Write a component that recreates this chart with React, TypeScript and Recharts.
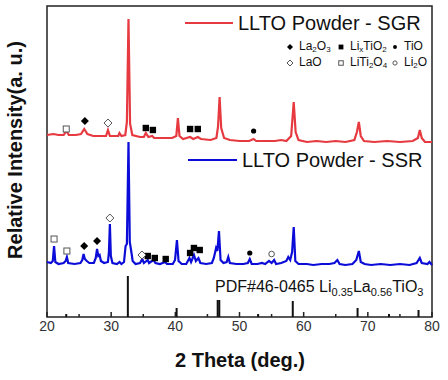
import React from "react"
import { ComposedChart, Line, Scatter, XAxis, YAxis, ReferenceLine, ReferenceArea } from "recharts"

const FONT = 'Arial, "Liberation Sans", Helvetica, sans-serif'
const RED = "#e63a40"
const BLUE = "#0c0cd8"

const thetaTicks = [20, 25, 30, 35, 40, 45, 50, 55, 60, 65, 70, 75, 80]

// SGR pattern (2θ, relative intensity above its own baseline)
const sgrPattern: [number, number][] = [
  [20, 7], [21, 8], [21.8, 7], [22.6, 7], [23.0, 11], [23.4, 7], [24.5, 7], [25.3, 8], [25.8, 13], [26.3, 8],
  [27.2, 6], [28.5, 6], [29.2, 6], [29.5, 12], [29.8, 6], [30.6, 6], [31.1, 6], [31.3, 9], [31.6, 6], [32.2, 7],
  [32.45, 20], [32.7, 123], [32.95, 18], [33.3, 7], [34.5, 5], [35.1, 5], [35.4, 9], [35.8, 5], [36.4, 6], [36.7, 4],
  [38, 4], [39.5, 4], [40.15, 6], [40.4, 24], [40.65, 6], [41.2, 3], [42.3, 5], [42.8, 3], [43.5, 5], [44, 3],
  [45.5, 2], [46.4, 4], [46.65, 15], [46.9, 45], [47.15, 14], [47.6, 4], [48.5, 2], [50, 1], [51.5, 1], [52.2, 3],
  [52.6, 1], [54, 1], [55.5, 1], [56.5, 2], [57.3, 1], [58.05, 6], [58.45, 40], [58.75, 10], [59.2, 2], [60.5, 0],
  [62, 1], [63.5, 0], [65, 1], [66.5, 0], [67.9, 2], [68.3, 10], [68.6, 20], [68.9, 6], [69.4, 1], [71, 0],
  [73, 1], [75, 0], [77, 1], [77.8, 4], [78.1, 12], [78.4, 4], [78.9, 0], [80, 0],
]

// SSR pattern (2θ, relative intensity above its own baseline)
const ssrPattern: [number, number][] = [
  [20, 4], [20.6, 3], [20.9, 5], [21.1, 20], [21.3, 4], [21.8, 2], [22.6, 3], [22.9, 5], [23.1, 9], [23.3, 3],
  [24.3, 2], [25.2, 3], [25.5, 6], [25.7, 12], [25.9, 7], [26.2, 5], [26.6, 3], [27.3, 3], [27.6, 8], [27.8, 17],
  [28.0, 10], [28.2, 11], [28.4, 5], [28.9, 3], [29.5, 4], [29.65, 14], [29.8, 42], [29.95, 10], [30.2, 3], [30.9, 2],
  [31.3, 4], [31.6, 2], [32.0, 4], [32.25, 20], [32.45, 22], [32.7, 124], [32.9, 24], [33.1, 16], [33.35, 5], [33.8, 2],
  [34.5, 3], [34.85, 7], [35.1, 3], [35.7, 6], [35.9, 3], [36.6, 6], [36.9, 3], [37.6, 2], [38.4, 4], [38.7, 2],
  [39.6, 2], [39.95, 6], [40.25, 26], [40.5, 5], [41, 2], [41.7, 2], [42.2, 8], [42.45, 4], [42.9, 11], [43.2, 5],
  [43.6, 8], [43.9, 3], [44.8, 2], [45.7, 3], [46.0, 8], [46.35, 18], [46.55, 15], [46.8, 35], [47.05, 6], [47.5, 3],
  [48.0, 4], [48.25, 9], [48.5, 3], [49.5, 2], [50.6, 2], [51.3, 3], [51.6, 7], [51.9, 2], [52.8, 2], [53.5, 3],
  [54.0, 2], [54.6, 5], [55.0, 3], [55.4, 6], [55.7, 2], [56.5, 3], [57.3, 5], [57.6, 9], [57.9, 6], [58.2, 14],
  [58.45, 39], [58.7, 5], [59.2, 2], [60.5, 2], [61.5, 1], [62.8, 2], [64, 2], [64.8, 3], [65.25, 6], [65.6, 2],
  [66.5, 1], [67.6, 2], [68.2, 6], [68.6, 15], [68.9, 4], [69.5, 2], [70.5, 1], [72, 2], [73.5, 1], [75, 2],
  [76.5, 1], [77.6, 3], [78.1, 8], [78.4, 3], [79.3, 2], [79.6, 4], [80, 1],
]

const sgrOffset = 175
const ssrOffset = 51

// PDF#46-0465 reference lines (2θ, relative intensity)
const pdfSticks: [number, number][] = [
  [23.0, 3], [32.6, 41], [40.2, 9], [46.6, 17], [46.85, 17], [52.9, 3], [58.3, 16], [68.4, 9], [73.3, 3], [77.9, 7],
]

type Phase = "La2O3" | "LixTiO2" | "TiO" | "LaO" | "LiTi2O4" | "Li2O"

const sgrMarks: [Phase, number, number][] = [
  ["LiTi2O4", 23.0, 13], ["La2O3", 25.9, 21], ["LaO", 29.5, 19],
  ["LixTiO2", 35.4, 14], ["LixTiO2", 36.5, 12], ["LixTiO2", 42.3, 13], ["LixTiO2", 43.5, 13],
  ["TiO", 52.2, 11],
]

const ssrMarks: [Phase, number, number][] = [
  ["LiTi2O4", 21.1, 27], ["LiTi2O4", 23.1, 15], ["La2O3", 25.8, 20], ["La2O3", 27.8, 25],
  ["LaO", 29.8, 48], ["LaO", 34.8, 11],
  ["LixTiO2", 35.7, 10], ["LixTiO2", 36.8, 8], ["LixTiO2", 38.5, 7],
  ["LixTiO2", 42.3, 13], ["LixTiO2", 42.9, 18], ["LixTiO2", 43.8, 16],
  ["TiO", 51.6, 13], ["Li2O", 55.0, 12],
]

const phases: Phase[] = ["La2O3", "LixTiO2", "TiO", "LaO", "LiTi2O4", "Li2O"]

function glyph(kind: Phase, cx: number, cy: number, s: number) {
  const open = { fill: "#fff", stroke: "#555", strokeWidth: 1 }
  const solid = { fill: "#000", stroke: "none" }
  switch (kind) {
    case "La2O3":
      return <polygon points={`${cx},${cy - s} ${cx + s},${cy} ${cx},${cy + s} ${cx - s},${cy}`} {...solid} />
    case "LaO":
      return <polygon points={`${cx},${cy - s} ${cx + s},${cy} ${cx},${cy + s} ${cx - s},${cy}`} {...open} />
    case "LixTiO2":
      return <rect x={cx - s * 0.8} y={cy - s * 0.8} width={s * 1.6} height={s * 1.6} {...solid} />
    case "LiTi2O4":
      return <rect x={cx - s * 0.75} y={cy - s * 0.75} width={s * 1.5} height={s * 1.5} {...open} />
    case "TiO":
      return <circle cx={cx} cy={cy} r={s * 0.65} {...solid} />
    default:
      return <circle cx={cx} cy={cy} r={s * 0.7} {...open} />
  }
}

function ThetaTick(props: any) {
  const { x, y, payload } = props
  const major = payload.value % 10 === 0
  return (
    <g>
      <line x1={x} x2={x} y1={y} y2={y - (major ? 5 : 3)} stroke="#222" strokeWidth={1.5} />
      {major && (
        <text x={x} y={y + 14} textAnchor="middle" fontSize={14} fill="#333" fontFamily={FONT}>
          {payload.value}
        </text>
      )}
    </g>
  )
}

function LegendItem({ kind, left, top, children }: { kind: Phase; left: number; top: number; children: React.ReactNode }) {
  return (
    <>
      <svg style={{ position: "absolute", left: left - 5, top: top - 5 }} width={10} height={10}>
        {glyph(kind, 5, 5, 3)}
      </svg>
      <div style={{ position: "absolute", left: left + 9, top: top - 7, fontSize: 12, lineHeight: "12px", whiteSpace: "nowrap", color: "#111" }}>
        {children}
      </div>
    </>
  )
}

const sub = { fontSize: 8, lineHeight: "8px", verticalAlign: "-2px" as const }

export default function App() {
  const sgrData = sgrPattern.map(([theta, v]) => ({ theta, value: v + sgrOffset }))
  const ssrData = ssrPattern.map(([theta, v]) => ({ theta, value: v + ssrOffset }))
  const markData = (marks: [Phase, number, number][], offset: number, kind: Phase) =>
    marks.filter((m) => m[0] === kind).map(([, theta, v]) => ({ theta, value: v + offset }))

  return (
    <div style={{ position: "absolute", left: 0, top: 0, width: 448, height: 380, background: "#fff", fontFamily: FONT }}>
      <ComposedChart width={448} height={380} margin={{ top: 6, right: 16, bottom: 0, left: 47 }}>
        <XAxis
          type="number"
          dataKey="theta"
          domain={[20, 80]}
          ticks={thetaTicks}
          interval={0}
          height={63}
          axisLine={false}
          tickLine={false}
          tickSize={0}
          tickMargin={0}
          tick={<ThetaTick />}
        />
        <YAxis type="number" dataKey="value" domain={[0, 311]} hide allowDataOverflow />
        <ReferenceArea x1={20} x2={80} y1={0} y2={311} fill="none" stroke="#222" strokeWidth={1.5} ifOverflow="visible" />
        {pdfSticks.map(([theta, h]) => (
          <ReferenceLine key={theta} segment={[{ x: theta, y: 0 }, { x: theta, y: h }]} stroke="#111" strokeWidth={2} />
        ))}
        <Line data={sgrData} dataKey="value" type="linear" stroke={RED} strokeWidth={2.2} dot={false} isAnimationActive={false} />
        <Line data={ssrData} dataKey="value" type="linear" stroke={BLUE} strokeWidth={2.2} dot={false} isAnimationActive={false} />
        {phases.map((kind) => (
          <Scatter
            key={"sgr" + kind}
            data={markData(sgrMarks, sgrOffset, kind)}
            dataKey="value"
            isAnimationActive={false}
            shape={(p: any) => glyph(kind, p.cx, p.cy, 4)}
          />
        ))}
        {phases.map((kind) => (
          <Scatter
            key={"ssr" + kind}
            data={markData(ssrMarks, ssrOffset, kind)}
            dataKey="value"
            isAnimationActive={false}
            shape={(p: any) => glyph(kind, p.cx, p.cy, 4)}
          />
        ))}
      </ComposedChart>

      {/* series legend */}
      <div style={{ position: "absolute", left: 185, top: 22, width: 48, height: 2, background: RED }} />
      <div style={{ position: "absolute", left: 238, top: 12, fontSize: 20, lineHeight: "22px", whiteSpace: "nowrap", color: "#111" }}>
        LLTO Powder - SGR
      </div>
      <div style={{ position: "absolute", left: 188, top: 159, width: 49, height: 2, background: BLUE }} />
      <div style={{ position: "absolute", left: 242, top: 149, fontSize: 20, lineHeight: "22px", whiteSpace: "nowrap", color: "#111" }}>
        LLTO Powder - SSR
      </div>

      {/* phase legend */}
      <LegendItem kind="La2O3" left={290} top={47}>La<span style={sub}>2</span>O<span style={sub}>3</span></LegendItem>
      <LegendItem kind="LixTiO2" left={341} top={47}>Li<span style={sub}>x</span>TiO<span style={sub}>2</span></LegendItem>
      <LegendItem kind="TiO" left={395} top={47}>TiO</LegendItem>
      <LegendItem kind="LaO" left={290} top={63}>LaO</LegendItem>
      <LegendItem kind="LiTi2O4" left={341} top={63}>LiTi<span style={sub}>2</span>O<span style={sub}>4</span></LegendItem>
      <LegendItem kind="Li2O" left={395} top={63}>Li<span style={sub}>2</span>O</LegendItem>

      {/* reference pattern label */}
      <div style={{ position: "absolute", left: 215, top: 278, fontSize: 16, lineHeight: "18px", whiteSpace: "nowrap", color: "#111" }}>
        PDF#46-0465 Li<span style={{ fontSize: 11, verticalAlign: "-4px" }}>0.35</span>La
        <span style={{ fontSize: 11, verticalAlign: "-4px" }}>0.56</span>TiO
        <span style={{ fontSize: 11, verticalAlign: "-4px" }}>3</span>
      </div>

      {/* axis titles */}
      <div style={{ position: "absolute", left: 0, top: 349, width: 480, textAlign: "center", fontSize: 20, fontWeight: 700, lineHeight: "22px", color: "#111" }}>
        2 Theta (deg.)
      </div>
      <div
        style={{
          position: "absolute",
          left: 15,
          top: 150,
          transform: "translate(-50%, -50%) rotate(-90deg)",
          fontSize: 20,
          fontWeight: 700,
          lineHeight: "22px",
          whiteSpace: "nowrap",
          color: "#111",
        }}
      >
        Relative Intensity(a. u.)
      </div>
    </div>
  )
}
